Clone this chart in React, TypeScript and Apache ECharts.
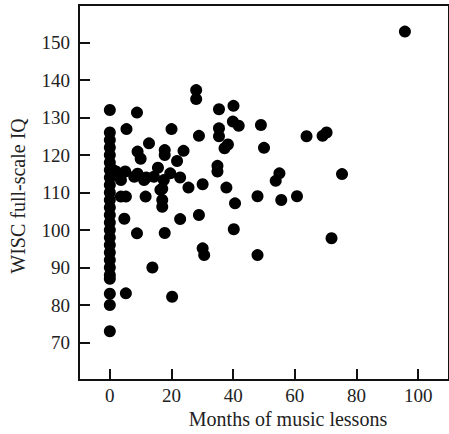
import React, { useEffect, useRef } from "react";
import * as echarts from "echarts";

const xTicks = [0, 20, 40, 60, 80, 100];
const yTicks = [70, 80, 90, 100, 110, 120, 130, 140, 150];

const noLessonIQ = [132, 126, 124, 122, 120, 118, 116, 114, 112, 110, 108, 106, 104, 102, 100, 98, 96, 94, 92, 90, 88, 87, 83, 80, 73];

const lessonMonths = [
  1, 2, 5, 3.6, 3.6, 5.2, 4.7, 5.4, 5.2,
  8.8, 9, 10, 12.7, 9, 7.9, 11.1, 14.3, 11.8,
  8.8, 11.6, 13.8, 15.6,
  17.5, 16.4, 17, 17, 17, 17.8, 17.8, 17.8,
  19.6, 20, 20.2, 21.8, 22.8, 23.9, 22.8,
  25.5, 28, 28, 28.9, 28.9, 30.1, 30.1, 30.6,
  34.9, 34.9, 35.4, 35.4, 35.4, 37.2, 38.3, 37.8, 40.1, 39.9, 41.8, 40.6, 40.2,
  47.9, 47.9, 49, 50, 53.8, 55, 55.6, 60.7, 63.8, 69, 70.3, 71.9, 75.3, 95.7,
];
const lessonIQ = [
  116, 115.6, 115.6, 113.3, 108.9, 108.9, 103, 126.9, 83.1,
  131.3, 120.9, 119, 123.1, 115, 114.2, 113.3, 114.2, 114,
  99.1, 108.9, 90, 116.6,
  113.3, 110.7, 111, 108, 106.2, 121.3, 120, 99.2,
  115.1, 126.9, 82.2, 118.4, 114, 121.1, 102.9,
  111.3, 137.3, 134.9, 125.1, 104, 112.2, 95.1, 93.3,
  117.1, 115.6, 132.2, 127.1, 125, 121.8, 122.8, 111.3, 133.1, 128.9, 127.8, 107.1, 100.2,
  109, 93.3, 128, 121.9, 113.1, 115.1, 108, 109, 125, 125.1, 126, 97.8, 114.9, 152.9,
];

const xTitle = "Months of music lessons";
const yTitle = "WISC full-scale IQ";

export default function App() {
  const ref = useRef<HTMLDivElement>(null);
  useEffect(() => {
    if (!ref.current) return;
    const chart = echarts.init(ref.current, null, { renderer: "svg" });
    const points: number[][] = [
      ...noLessonIQ.map((v) => [0, v]),
      ...lessonMonths.map((m, i) => [m, lessonIQ[i]]),
    ];
    const font = "'Liberation Serif', 'DejaVu Serif', serif";
    chart.setOption({
      animation: false,
      backgroundColor: "#fff",
      grid: {
        left: 79,
        top: 5,
        width: 375,
        height: 375,
        show: true,
        borderColor: "#111",
        borderWidth: 2,
        backgroundColor: "transparent",
      },
      xAxis: {
        type: "value",
        min: -10,
        max: 110,
        interval: 10,
        splitLine: { show: false },
        axisLine: { show: true, onZero: false, lineStyle: { color: "#111", width: 2 } },
        axisTick: { show: true, inside: true, length: 11, customValues: xTicks, lineStyle: { color: "#111", width: 2 } },
        axisLabel: { customValues: xTicks, color: "#222", fontFamily: font, fontSize: 19, margin: 6 },
      },
      yAxis: {
        type: "value",
        min: 60,
        max: 160,
        interval: 10,
        splitLine: { show: false },
        axisLine: { show: true, onZero: false, lineStyle: { color: "#111", width: 2 } },
        axisTick: { show: true, inside: true, length: 11, customValues: yTicks, lineStyle: { color: "#111", width: 2 } },
        axisLabel: { customValues: yTicks, color: "#222", fontFamily: font, fontSize: 19, margin: 9 },
      },
      series: [
        {
          type: "scatter",
          data: points,
          symbol: "circle",
          symbolSize: 12,
          itemStyle: { color: "#000", opacity: 1 },
        },
      ],
      graphic: [
        {
          type: "text",
          x: 288,
          y: 419,
          style: {
            text: xTitle,
            fill: "#222",
            font: `20px ${font}`,
            textAlign: "center",
            textVerticalAlign: "middle",
          },
        },
        {
          type: "text",
          x: 18,
          y: 196,
          rotation: Math.PI / 2,
          style: {
            text: yTitle,
            fill: "#222",
            font: `20px ${font}`,
            textAlign: "center",
            textVerticalAlign: "middle",
          },
        },
      ],
    });
    return () => chart.dispose();
  }, []);
  return (
    <div
      ref={ref}
      style={{ position: "fixed", left: 0, top: 0, width: 449, height: 434 }}
    />
  );
}
